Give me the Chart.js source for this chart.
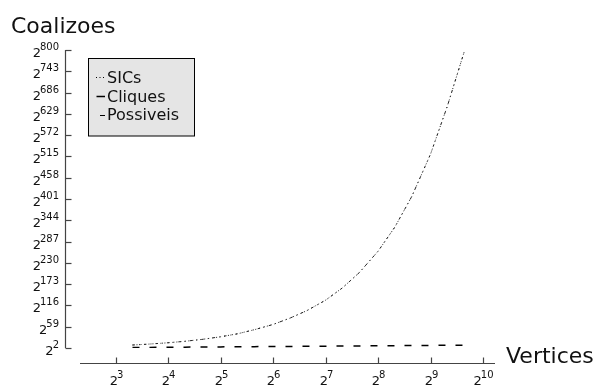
<!DOCTYPE html>
<html>
<head>
<meta charset="utf-8">
<script src="https://cdn.jsdelivr.net/npm/chart.js@4.4.1/dist/chart.umd.min.js"></script>
<style>
  html, body { margin: 0; padding: 0; background: #fff; }
  #wrap { width: 598px; height: 385px; }
</style>
</head>
<body>
<div id="wrap"><canvas id="coalChart" width="598" height="385"></canvas></div>
<script>
// number of vertices (x axis, log2 scale)
const vertices = [10, 12, 16, 20, 25, 32, 40, 50, 64, 80, 100, 128, 160, 200, 256, 320, 400, 512, 640, 800];
// log2 of the number of coalitions
const sicsExp = [10, 12, 16, 20, 25, 32, 40, 51, 65, 82, 102, 130, 163, 204, 261, 326, 408, 521, 650, 796];
const possiveisExp = [10, 12, 16, 20, 25, 32, 40, 51, 65, 82, 102, 130, 163, 204, 261, 326, 408, 521, 650, 796];
const cliquesExp = [3.3, 3.6, 4, 4.3, 4.6, 5, 5.3, 5.6, 6, 6.3, 6.6, 7, 7.3, 7.6, 8, 8.3, 8.6, 9, 9.3, 9.6];

const xTickExp = [3, 4, 5, 6, 7, 8, 9, 10];
const yTickExp = [2, 59, 116, 173, 230, 287, 344, 401, 458, 515, 572, 629, 686, 743, 800];

const FONT = '"DejaVu Sans", sans-serif';
const INK = '#111';

const pts = (ys) => vertices.map((v, i) => ({ x: v, y: ys[i] }));

// draws "2" with a raised exponent, like matplotlib mathtext
function drawPow(ctx, exp, x, baseline, align) {
  ctx.font = '13px ' + FONT;
  const wb = ctx.measureText('2').width - 1;
  ctx.font = '10px ' + FONT;
  const we = ctx.measureText(String(exp)).width;
  const w = wb + we;
  let start = align === 'right' ? x - w : x - w / 2;
  ctx.textAlign = 'left';
  ctx.textBaseline = 'alphabetic';
  ctx.font = '13px ' + FONT;
  ctx.fillText('2', start, baseline);
  ctx.font = '10px ' + FONT;
  ctx.fillText(String(exp), start + wb, baseline - 7.5);
}

const axesPlugin = {
  id: 'axesPlugin',
  afterDraw(chart) {
    const ctx = chart.ctx;
    const a = chart.chartArea;
    const xs = chart.scales.x, ys = chart.scales.y;
    ctx.save();
    ctx.strokeStyle = '#444';
    ctx.fillStyle = INK;
    ctx.lineWidth = 1.2;

    // y spine, offset outward
    const sx = Math.round(a.left - 14) - 0.5;
    ctx.beginPath();
    ctx.moveTo(sx, ys.getPixelForValue(800));
    ctx.lineTo(sx, ys.getPixelForValue(2));
    ctx.stroke();
    yTickExp.forEach(e => {
      const py = Math.round(ys.getPixelForValue(e)) + 0.5;
      ctx.beginPath();
      ctx.moveTo(sx, py);
      ctx.lineTo(sx + 6, py);
      ctx.stroke();
      drawPow(ctx, e, sx - 6.5, py + 6.5, 'right');
    });

    // x spine, offset outward
    const sy = Math.round(a.bottom + 15) + 0.5;
    ctx.beginPath();
    ctx.moveTo(a.left, sy);
    ctx.lineTo(a.right, sy);
    ctx.stroke();
    xTickExp.forEach(e => {
      const px = Math.round(xs.getPixelForValue(Math.pow(2, e))) + 0.5;
      ctx.beginPath();
      ctx.moveTo(px, sy);
      ctx.lineTo(px, sy - 6);
      ctx.stroke();
      drawPow(ctx, e, px, 385, 'center');
    });

    // axis titles
    ctx.fillStyle = INK;
    ctx.font = '22px ' + FONT;
    ctx.textAlign = 'left';
    ctx.textBaseline = 'alphabetic';
    ctx.fillText('Coalizoes', 11, 33);
    ctx.fillText('Vertices', 506, 363);

    // legend box
    ctx.fillStyle = '#e5e5e5';
    ctx.strokeStyle = '#000';
    ctx.lineWidth = 1;
    ctx.fillRect(88.5, 58.5, 106, 77.5);
    ctx.strokeRect(88.5, 58.5, 106, 77.5);
    const rows = [
      { ds: 0, y: 82.5, x0: 96, x1: 104, dash: [1, 2.5] },
      { ds: 1, y: 101.5, x0: 96.5, x1: 105, dash: [] },
      { ds: 2, y: 120, x0: 100, x1: 105, dash: [] }
    ];
    ctx.font = '16px ' + FONT;
    rows.forEach(r => {
      const d = chart.data.datasets[r.ds];
      const ly = Math.floor(r.y - 5) + 0.5;
      ctx.strokeStyle = '#000';
      ctx.lineWidth = d.borderWidth;
      ctx.setLineDash(r.dash);
      ctx.beginPath();
      ctx.moveTo(r.x0, ly);
      ctx.lineTo(r.x1, ly);
      ctx.stroke();
      ctx.setLineDash([]);
      ctx.fillStyle = INK;
      ctx.fillText(d.label, 107, r.y);
    });
    ctx.restore();
  }
};

new Chart(document.getElementById('coalChart'), {
  type: 'line',
  data: {
    datasets: [
      {
        label: 'SICs',
        data: pts(sicsExp),
        borderColor: '#222',
        borderWidth: 1,
        borderDash: [1, 3],
        pointRadius: 0,
        fill: false
      },
      {
        label: 'Cliques',
        data: pts(cliquesExp),
        borderColor: '#000',
        borderWidth: 1.5,
        borderDash: [7, 10],
        pointRadius: 0,
        fill: false
      },
      {
        label: 'Possiveis',
        data: pts(possiveisExp),
        borderColor: '#222',
        borderWidth: 1,
        borderDash: [2.5, 4, 1, 4],
        pointRadius: 0,
        fill: false
      }
    ]
  },
  options: {
    responsive: false,
    animation: false,
    layout: { padding: { left: 80, right: 103, top: 50, bottom: 37 } },
    plugins: {
      legend: { display: false },
      tooltip: { enabled: false }
    },
    scales: {
      x: {
        type: 'logarithmic',
        min: 5,
        max: 1200,
        display: false
      },
      y: {
        type: 'linear',
        min: 2,
        max: 800,
        display: false
      }
    }
  },
  plugins: [axesPlugin]
});
</script>
</body>
</html>
